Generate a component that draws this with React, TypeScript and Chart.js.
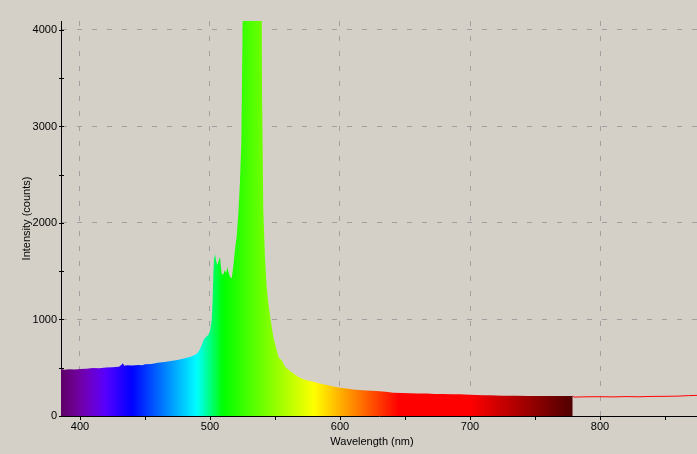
import React, { useEffect, useRef } from "react";
import { Chart, registerables } from "chart.js";

Chart.register(...registerables);

// Wavelength (nm)
const wavelengths = [
  385, 388, 392, 396, 400, 405, 410, 415, 420, 425, 430, 432, 433, 434, 436, 440, 445, 448, 450, 455,
  460, 465, 470, 475, 480, 485, 487, 490, 492, 494, 495, 497, 498.7, 500, 501.3, 502, 502.6, 503.2, 503.8, 504.5,
  505.6, 506.5, 507.7, 508.3, 509, 510, 511.5, 512.5, 513.3, 514.3, 515.4, 516.7, 517.9, 519.2, 520.5, 521.8, 523, 524.1, 524.9, 525.4,
  527, 532, 537, 539.7, 540, 541, 542.3, 543.6, 544.9, 546.7, 548.7, 551.3, 553, 555.1, 557.7, 559, 562, 564, 568, 571.8,
  575, 579.5, 585, 589.8, 595, 600, 605, 610, 615, 620, 628, 635, 641, 648, 653.8, 660, 666.7, 673, 679.5, 686,
  692, 700, 710, 715, 725, 735, 745, 754, 765, 772, 779, 780, 790, 800, 810, 820, 830, 840, 850, 860,
  868, 875,
];

// Intensity (counts)
const intensities = [
  487, 480, 485, 482, 487, 490, 497, 495, 502, 505, 510, 530, 546, 520, 525, 522, 528, 525, 535, 540,
  553, 560, 570, 580, 595, 615, 625, 645, 684, 746, 788, 820, 839, 880, 995, 1200, 1482, 1650, 1689, 1620,
  1565, 1600, 1651, 1560, 1480, 1460, 1513, 1480, 1547, 1490, 1444, 1427, 1547, 1720, 1858, 2100, 2411, 2829, 3827, 4500,
  5500, 6000, 5500, 4500, 3412, 2135, 1651, 1340, 1168, 995, 822, 684, 600, 580, 511, 494, 460, 442, 405, 380,
  368, 356, 335, 321, 305, 294, 285, 275, 269, 265, 259, 250, 242, 238, 235, 233, 232, 229, 228, 226,
  225, 220, 216, 214, 211, 209, 208, 207, 207, 206, 207, 196, 199, 200, 198, 201, 199, 203, 204, 206,
  211, 214,
];

const FILL_END_NM = 779;
const xTickValues = [400, 450, 500, 550, 600, 650, 700, 750, 800, 850];
const yTickValues = [0, 500, 1000, 1500, 2000, 2500, 3000, 3500, 4000];
const X_MIN = 385.4;
const X_MAX = 874.6;
const Y_MAX = 4093;

const BG = "#d4d0c8";
const FONT = "Liberation Sans";

function spectrumColor(w: number): string {
  let r = 0, g = 0, b = 0;
  if (w < 440) { r = -(w - 440) / 60; b = 1; }
  else if (w < 490) { g = (w - 440) / 50; b = 1; }
  else if (w < 510) { g = 1; b = -(w - 510) / 20; }
  else if (w < 580) { r = (w - 510) / 70; g = 1; }
  else if (w < 645) { r = 1; g = -(w - 645) / 65; }
  else { r = 1; }
  let f = 1;
  if (w < 420) f = 0.3 + (0.7 * (w - 380)) / 40;
  else if (w > 700) f = 0.3 + (0.7 * (780 - w)) / 80;
  const c = (v: number) => Math.max(0, Math.min(255, Math.round(v * f * 255)));
  return `rgb(${c(r)},${c(g)},${c(b)})`;
}

export default function App() {
  const ref = useRef<HTMLCanvasElement>(null);

  useEffect(() => {
    document.body.style.margin = "0";
    document.body.style.background = BG;
    const canvas = ref.current;
    if (!canvas) return;

    const points = wavelengths.map((x, i) => ({ x, y: intensities[i] }));
    const fillPoints = points.filter((p) => p.x <= FILL_END_NM);

    let cachedGrad: CanvasGradient | null = null;
    let cachedKey = "";
    const gradientFn = (context: any) => {
      const chart = context.chart;
      const area = chart.chartArea;
      if (!area) return "transparent";
      const xs = chart.scales.x;
      const x0 = xs.getPixelForValue(385);
      const x1 = xs.getPixelForValue(FILL_END_NM + 1);
      const key = `${x0}-${x1}`;
      if (cachedGrad && key === cachedKey) return cachedGrad;
      const grad = chart.ctx.createLinearGradient(x0, 0, x1, 0);
      for (let w = 385; w <= FILL_END_NM + 1; w += 2) {
        grad.addColorStop((w - 385) / (FILL_END_NM + 1 - 385), spectrumColor(w));
      }
      cachedGrad = grad;
      cachedKey = key;
      return grad;
    };

    const axisPlugin = {
      id: "axisExtras",
      afterDraw(chart: any) {
        const ctx = chart.ctx;
        const xs = chart.scales.x;
        const ys = chart.scales.y;
        const area = chart.chartArea;
        ctx.save();
        ctx.fillStyle = "#000";
        yTickValues.forEach((v) => {
          const py = Math.round(ys.getPixelForValue(v));
          ctx.fillRect(area.left - 2, py, 5, 1);
        });
        xTickValues.forEach((v) => {
          const px = Math.round(xs.getPixelForValue(v));
          ctx.fillRect(px, area.bottom + 1, 1, 3);
        });
        ctx.font = `11px "${FONT}"`;
        ctx.textAlign = "center";
        ctx.textBaseline = "middle";
        ctx.fillText("Wavelength (nm)", 372, 442);
        ctx.translate(27, (area.top + area.bottom) / 2);
        ctx.rotate(-Math.PI / 2);
        ctx.fillText("Intensity (counts)", 0, 0);
        ctx.restore();
      },
    };

    const chart = new Chart(canvas, {
      type: "line",
      data: {
        datasets: [
          {
            data: fillPoints,
            fill: "origin",
            backgroundColor: gradientFn,
            borderColor: "transparent",
            borderWidth: 0,
            pointRadius: 0,
            tension: 0,
            order: 1,
          } as any,
          {
            data: points,
            fill: false,
            borderColor: "#ff0000",
            borderWidth: 1,
            pointRadius: 0,
            tension: 0,
            order: 2,
            segment: {
              borderColor: (c: any) => (c.p1.parsed.x <= FILL_END_NM ? "transparent" : "#ff0000"),
            },
          } as any,
        ],
      },
      options: {
        responsive: false,
        animation: false,
        devicePixelRatio: 1,
        events: [],
        layout: { padding: { top: 21, right: 0, left: 0, bottom: 0 } },
        plugins: { legend: { display: false }, tooltip: { enabled: false } },
        scales: {
          x: {
            type: "linear",
            min: X_MIN,
            max: X_MAX,
            afterFit: (s: any) => { s.height = 38; },
            afterBuildTicks: (s: any) => { s.ticks = xTickValues.map((v) => ({ value: v })); },
            ticks: {
              callback: (v: any) => (Number(v) % 100 === 0 ? String(v) : ""),
              font: { family: FONT, size: 11 },
              color: "#000",
              padding: 4,
              maxRotation: 0,
              autoSkip: false,
            },
            grid: {
              color: (c: any) => (c.tick && c.tick.value % 100 === 0 ? "#a0a0a0" : "transparent"),
              drawTicks: false,
              lineWidth: 1,
            },
            border: { display: true, color: "#000", width: 1, dash: [5, 10] },
          },
          y: {
            type: "linear",
            min: 0,
            max: Y_MAX,
            afterFit: (s: any) => { s.width = 61; },
            afterBuildTicks: (s: any) => { s.ticks = yTickValues.map((v) => ({ value: v })); },
            ticks: {
              callback: (v: any) => (Number(v) % 1000 === 0 ? String(v) : ""),
              font: { family: FONT, size: 11 },
              color: "#000",
              padding: 4,
              autoSkip: false,
            },
            grid: {
              color: (c: any) =>
                c.tick && c.tick.value % 1000 === 0 && c.tick.value !== 0 ? "#a0a0a0" : "transparent",
              drawTicks: false,
              lineWidth: 1,
            },
            border: { display: true, color: "#000", width: 1, dash: [5, 10] },
          },
        },
      } as any,
      plugins: [axisPlugin],
    });

    return () => chart.destroy();
  }, []);

  return (
    <div style={{ position: "fixed", left: 0, top: 0, width: 697, height: 454, background: BG }}>
      <canvas ref={ref} width={697} height={454} style={{ display: "block" }} />
    </div>
  );
}
